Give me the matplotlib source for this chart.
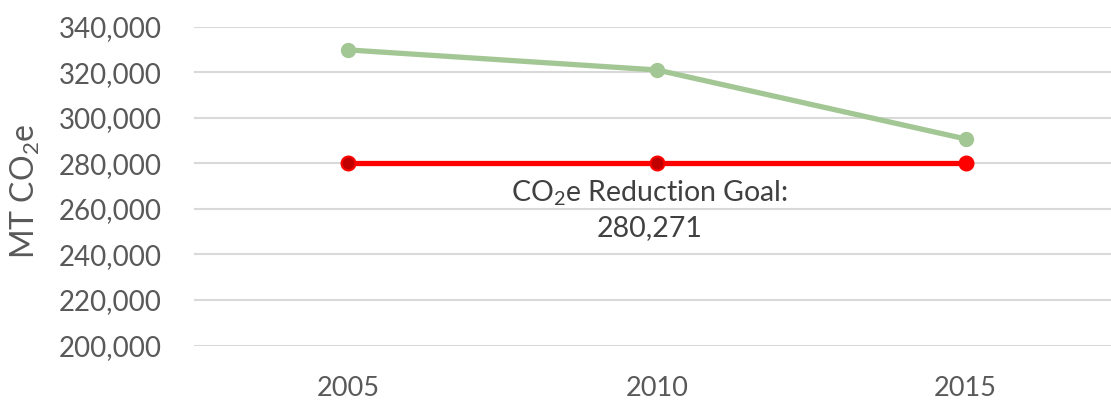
import matplotlib
matplotlib.use("Agg")
import matplotlib.pyplot as plt
from matplotlib.ticker import FuncFormatter, MultipleLocator

years = ["2005", "2010", "2015"]
emissions = [329800, 321000, 290700]
goal = [280271, 280271, 280271]
goal_label = "CO$_2$e Reduction Goal:\n280,271"

plt.rcParams['font.family'] = ['Lato', 'DejaVu Sans']
plt.rcParams['mathtext.fontset'] = 'custom'
plt.rcParams['mathtext.rm'] = 'Lato'
plt.rcParams['mathtext.it'] = 'Lato'
plt.rcParams['mathtext.default'] = 'regular'

W, H = 1111, 400
fig = plt.figure(figsize=(W/100, H/100), dpi=100)
left, right = 194, 1120
top, bottom = 26.7, 345.5
ax = fig.add_axes([left/W, 1 - bottom/H, (right-left)/W, (bottom-top)/H])

x = list(range(len(years)))
ax.plot(x, emissions, color='#A3C794', lw=3.8, marker='o', ms=10,
        solid_capstyle='round', zorder=3, clip_on=False)
ax.plot(x, goal, color='#FF0000', lw=3.8, zorder=3, clip_on=False)
for i, v in enumerate(goal):
    face = '#C00000' if i < 2 else '#FF0000'
    ax.plot([x[i]], [v], marker='o', ms=10, mfc=face, mec='#FF0000', mew=1.5,
            zorder=4, clip_on=False)

ax.text(0.975, 259600, goal_label, ha='center', va='center', fontsize=20.5,
        color='#404040', linespacing=1.35)

ax.set_ylim(200000, 340000)
ax.set_xlim(-0.5, 2.5)
ax.yaxis.set_major_locator(MultipleLocator(20000))
ax.yaxis.set_major_formatter(FuncFormatter(lambda v, p: f"{int(v):,}"))
ax.set_xticks(x)
ax.set_xticklabels(years)
ax.grid(axis='y', color='#D9D9D9', lw=1.5)
ax.set_axisbelow(True)
for s in ax.spines.values():
    s.set_visible(False)
ax.tick_params(axis='y', length=0, labelsize=20, colors='#595959', pad=23)
ax.tick_params(axis='x', length=0, labelsize=19.5, colors='#595959', pad=22)
fig.text(25/W, 1 - 191/H, "MT CO$_2$e", fontsize=23, color='#595959',
         rotation=90, ha='center', va='center')

fig.savefig("out.png", dpi=100)
